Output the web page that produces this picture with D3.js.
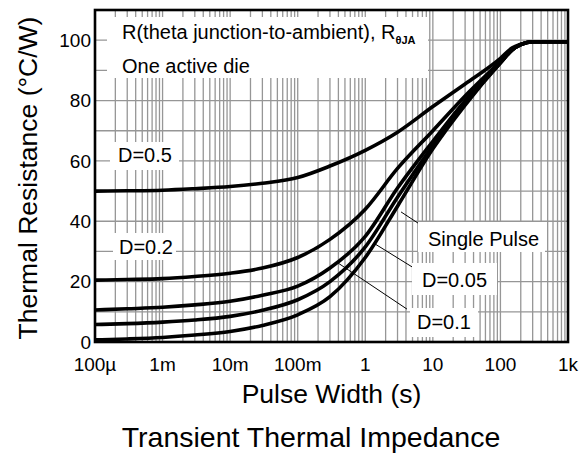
<!DOCTYPE html>
<html>
<head>
<meta charset="utf-8">
<script src="https://cdn.jsdelivr.net/npm/d3@7"></script>
<style>
  html, body { margin: 0; padding: 0; background: #fff; }
  svg { display: block; font-family: "Liberation Sans", Arial, sans-serif; }
</style>
</head>
<body>
<svg id="chart" width="580" height="453"></svg>
<script>
// ---- data ----
const pulseWidth = [1e-4, 3e-4, 1e-3, 3e-3, 1e-2, 3e-2, 0.1, 0.3, 1, 3, 10, 30, 100, 150, 200, 300, 1000];
const dutyHalf    = [50, 50.1, 50.3, 50.8, 51.5, 52.6, 54.5, 58.3, 63.5, 69.5, 78, 85.5, 94, 97.5, 98.7, 99.5, 99.5];
const dutyFifth   = [20.5, 20.7, 21.0, 21.7, 22.8, 24.5, 28, 34, 44, 57.5, 70, 81.5, 93, 97, 98.5, 99.5, 99.5];
const dutyTenth   = [10.6, 11.0, 11.5, 12.3, 13.5, 15.5, 18.5, 24.5, 35, 51, 66.5, 80, 92.5, 96.8, 98.5, 99.5, 99.5];
const dutyTwenty  = [5.8, 6.1, 6.6, 7.3, 8.5, 10.5, 14, 20, 31.5, 48, 65, 79, 92.5, 96.8, 98.5, 99.5, 99.5];
const singlePulse = [0.7, 1.0, 1.5, 2.3, 3.5, 5.5, 9, 15, 28, 45, 64, 78.5, 92.5, 96.8, 98.5, 99.5, 99.5];
const seriesNames = ["D=0.5", "D=0.2", "D=0.1", "D=0.05", "Single Pulse"];

const xTickValues = [1e-4, 1e-3, 1e-2, 1e-1, 1, 10, 100, 1000];
const xTickLabels = ["100\u00b5", "1m", "10m", "100m", "1", "10", "100", "1k"];
const yTickValues = [0, 20, 40, 60, 80, 100];

const xTitle = "Pulse Width (s)";
const yTitle = "Thermal Resistance (\u00b0C/W)";
const chartTitle = "Transient Thermal Impedance";

// ---- layout ----
const L = 95, R = 568, T = 10, B = 342;
const svg = d3.select("#chart");
const x = d3.scaleLog().domain([1e-4, 1e3]).range([L, R]);
const y = d3.scaleLinear().domain([0, 110]).range([B, T]);

// grid
const grid = svg.append("g");
const vGrid = [];
for (let e = -4; e < 3; e++) for (let m = 1; m <= 9; m++) vGrid.push(m * Math.pow(10, e));
vGrid.push(1000);
grid.selectAll("line.v").data(vGrid).join("line")
  .attr("x1", d => x(d)).attr("x2", d => x(d)).attr("y1", T).attr("y2", B)
  .attr("stroke", "#969696").attr("stroke-width", 1.3);
grid.selectAll("line.h").data(d3.range(0, 111, 10)).join("line")
  .attr("x1", L).attr("x2", R).attr("y1", d => y(d)).attr("y2", d => y(d))
  .attr("stroke", "#969696").attr("stroke-width", 1.3);

// white label backgrounds
const boxes = [
  [107, 17, 321, 61],
  [110, 142, 69, 28],
  [113, 233, 63, 27],
  [418, 222, 127, 30],
  [412, 263, 85, 32],
  [410, 308, 68, 29]
];
svg.append("g").selectAll("rect").data(boxes).join("rect")
  .attr("x", d => d[0]).attr("y", d => d[1]).attr("width", d => d[2]).attr("height", d => d[3])
  .attr("fill", "#fff");

// curves
const allSeries = [dutyHalf, dutyFifth, dutyTenth, dutyTwenty, singlePulse];
const line = d3.line().x(d => x(d[0])).y(d => y(d[1])).curve(d3.curveMonotoneX);
svg.append("g").selectAll("path").data(allSeries).join("path")
  .attr("d", s => line(pulseWidth.map((t, i) => [t, s[i]])))
  .attr("fill", "none").attr("stroke", "#000").attr("stroke-width", 3.6)
  .attr("stroke-linejoin", "round");

// leader lines (data coordinates)
const leaders = [
  [[3.38, 43.1], [6.03, 39.4]],
  [[1.39, 32.5], [4.91, 24.9]],
  [[0.394, 26.2], [4.14, 10.9]]
];
svg.append("g").selectAll("line").data(leaders).join("line")
  .attr("x1", d => x(d[0][0])).attr("y1", d => y(d[0][1]))
  .attr("x2", d => x(d[1][0])).attr("y2", d => y(d[1][1]))
  .attr("stroke", "#000").attr("stroke-width", 1);

// frame
svg.append("rect").attr("x", L).attr("y", T).attr("width", R - L).attr("height", B - T)
  .attr("fill", "none").attr("stroke", "#000").attr("stroke-width", 2.6);

// axes labels
svg.append("g").selectAll("text").data(xTickValues).join("text")
  .attr("x", d => x(d)).attr("y", 371).attr("text-anchor", "middle")
  .attr("font-size", 19).text((d, i) => xTickLabels[i]);
svg.append("g").selectAll("text").data(yTickValues).join("text")
  .attr("x", 91).attr("y", d => y(d)).attr("dy", "0.35em").attr("text-anchor", "end")
  .attr("font-size", 19).text(d => d);

svg.append("text").attr("x", (L + R) / 2).attr("y", 403).attr("text-anchor", "middle")
  .attr("font-size", 26.5).text(xTitle);
svg.append("text").attr("transform", `translate(37,${(T + B) / 2 + 2}) rotate(-90)`)
  .attr("text-anchor", "middle").attr("font-size", 26.5).text(yTitle);
svg.append("text").attr("x", 311).attr("y", 447).attr("text-anchor", "middle")
  .attr("font-size", 28.5).text(chartTitle);

// annotations
const ann = svg.append("g").attr("font-size", 20);
const t1 = ann.append("text").attr("x", 122).attr("y", 39);
t1.append("tspan").text("R(theta junction-to-ambient), R");
t1.append("tspan").attr("font-size", 11).attr("font-weight", "bold").attr("dy", 5).text("\u03b8JA");
ann.append("text").attr("x", 122).attr("y", 73).text("One active die");
const labelPos = [[118, 162], [119, 254], [417, 329], [422, 287], [428, 246]];
ann.selectAll("text.lab").data(seriesNames).join("text").attr("class", "lab")
  .attr("x", (d, i) => labelPos[i][0]).attr("y", (d, i) => labelPos[i][1]).text(d => d);
</script>
</body>
</html>
